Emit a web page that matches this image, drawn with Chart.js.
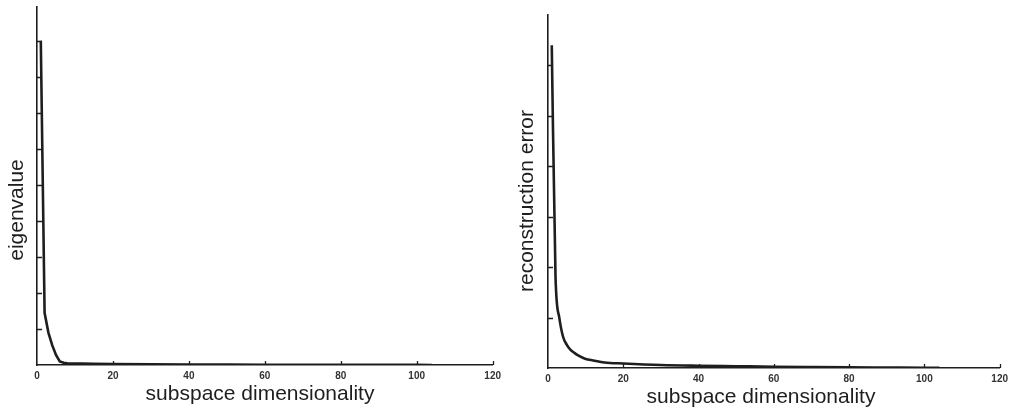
<!DOCTYPE html>
<html>
<head>
<meta charset="utf-8">
<script src="https://cdn.jsdelivr.net/npm/chart.js@4.4.1/dist/chart.umd.min.js"></script>
<style>
  html, body { margin: 0; padding: 0; background: #fff; }
  body { width: 1013px; height: 412px; position: relative; overflow: hidden; }
  .box { position: absolute; top: 0; height: 412px; }
  #leftBox { left: 0; width: 506px; }
  #rightBox { left: 506px; width: 507px; }
</style>
</head>
<body>
<div class="box" id="leftBox"><canvas id="left"></canvas></div>
<div class="box" id="rightBox"><canvas id="right"></canvas></div>
<script>
// ---- data ----
const dims = [1, 2, 3, 4, 5, 6, 7, 8, 10, 12, 15, 20, 30, 40, 50, 60, 70, 80, 90, 100, 104];
const eigenvalues = [9.0, 1.45, 0.9, 0.55, 0.28, 0.1, 0.06, 0.05, 0.042, 0.038, 0.032, 0.025, 0.018, 0.014, 0.011, 0.009, 0.007, 0.005, 0.004, 0.003, 0.002];
const reconError = [6.4, 1.8, 1.0, 0.62, 0.46, 0.36, 0.3, 0.25, 0.18, 0.15, 0.11, 0.09, 0.06, 0.045, 0.035, 0.025, 0.018, 0.012, 0.008, 0.004, 0.003];
const xTickValues = [0, 20, 40, 60, 80, 100, 120];
const xTitle = 'subspace dimensionality';
const leftYTitle = 'eigenvalue';
const rightYTitle = 'reconstruction error';

const FONT = '"Liberation Sans", Arial, Helvetica, sans-serif';
const INK = '#1e1e1e';

// inward ticks + custom-positioned axis titles
const decor = {
  id: 'decor',
  afterDraw(chart, args, o) {
    const ctx = chart.ctx;
    const xs = chart.scales.x, ys = chart.scales.y;
    ctx.save();
    ctx.strokeStyle = INK;
    ctx.lineWidth = 1.3;
    ctx.beginPath();
    xs.ticks.forEach(t => {
      if (t.value <= xs.min) return;
      const px = Math.round(xs.getPixelForValue(t.value)) + 0.5;
      ctx.moveTo(px, xs.top);
      ctx.lineTo(px, xs.top - 4);
    });
    ys.ticks.forEach(t => {
      if (t.value <= ys.min || t.value >= ys.max - 0.001 || Math.round(t.value) !== t.value) return;
      const py = Math.round(ys.getPixelForValue(t.value)) + 0.5;
      ctx.moveTo(ys.right, py);
      ctx.lineTo(ys.right + 5, py);
    });
    ctx.stroke();
    ctx.fillStyle = INK;
    ctx.font = '21px ' + FONT;
    ctx.textAlign = 'center';
    ctx.textBaseline = 'alphabetic';
    ctx.fillText(o.xTitle, o.xTitleX, o.xTitleY);
    ctx.translate(o.yTitleX, o.yTitleY);
    ctx.rotate(-Math.PI / 2);
    ctx.textBaseline = 'middle';
    ctx.fillText(o.yTitle, 0, 0);
    ctx.restore();
  }
};

function makeChart(id, values, yMax, axisW, axisH, pad, titles, interp) {
  return new Chart(document.getElementById(id), {
    type: 'line',
    data: {
      datasets: [{
        data: dims.map((d, i) => ({ x: d, y: values[i] })),
        borderColor: INK,
        borderWidth: 2.6,
        pointRadius: 0,
        tension: 0,
        cubicInterpolationMode: interp,
        fill: false
      }]
    },
    options: {
      responsive: true,
      maintainAspectRatio: false,
      animation: false,
      layout: { padding: pad },
      plugins: { legend: { display: false }, tooltip: { enabled: false }, decor: titles },
      scales: {
        x: {
          type: 'linear', min: 0, max: 120,
          afterBuildTicks: s => { s.ticks = xTickValues.map(v => ({ value: v })); },
          afterFit: s => { s.height = axisH; },
          grid: { drawOnChartArea: false, drawTicks: false },
          border: { display: true, color: INK, width: 1.6 },
          ticks: { padding: 5, color: '#333', font: { family: FONT, size: 10, weight: 'bold' }, maxRotation: 0, autoSkip: false }
        },
        y: {
          type: 'linear', min: 0, max: yMax,
          ticks: { display: false, stepSize: 1 },
          afterFit: s => { s.width = axisW; },
          grid: { drawOnChartArea: false, drawTicks: false },
          border: { display: true, color: INK, width: 1.6 }
        }
      }
    },
    plugins: [decor]
  });
}

makeChart('left', eigenvalues, 9.94, 37, 47, { top: 7, right: 12, left: 0, bottom: 0 },
  { xTitle: xTitle, xTitleX: 260, xTitleY: 400, yTitle: leftYTitle, yTitleX: 17, yTitleY: 210 }, 'default');
makeChart('right', reconError, 7.0, 42, 44, { top: 15, right: 13, left: 0, bottom: 0 },
  { xTitle: xTitle, xTitleX: 761 - 506, xTitleY: 403, yTitle: rightYTitle, yTitleX: 527 - 506, yTitleY: 201 }, 'monotone');
</script>
</body>
</html>
